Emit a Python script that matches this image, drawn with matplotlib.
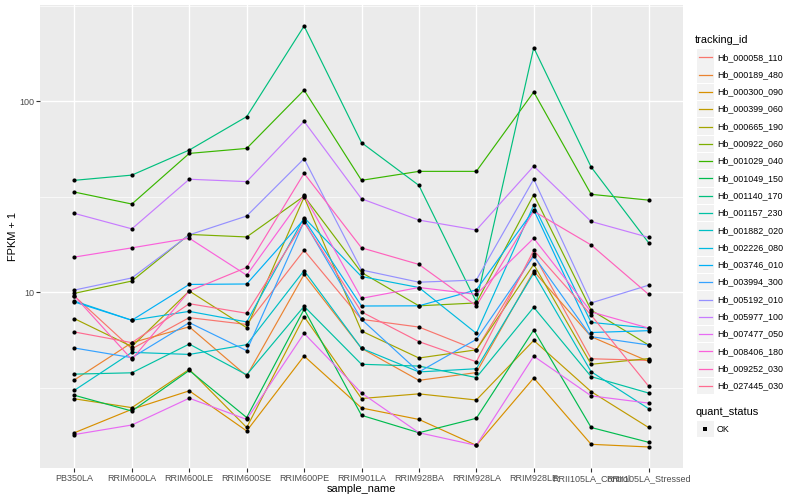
import numpy as np
import matplotlib
matplotlib.use("Agg")
import matplotlib.pyplot as plt
from matplotlib.patches import Rectangle
from matplotlib.lines import Line2D

plt.rcParams['font.family'] = ['Liberation Sans', 'DejaVu Sans']

samples = ['PB350LA', 'RRIM600LA', 'RRIM600LE', 'RRIM600SE', 'RRIM600PE', 'RRIM901LA',
           'RRIM928BA', 'RRIM928LA', 'RRIM928LE', 'RRII105LA_Control', 'RRII105LA_Stressed']

tracking_ids = ['Hb_000058_110', 'Hb_000189_480', 'Hb_000300_090', 'Hb_000399_060',
                'Hb_000665_190', 'Hb_000922_060', 'Hb_001029_040', 'Hb_001049_150',
                'Hb_001140_170', 'Hb_001157_230', 'Hb_001882_020', 'Hb_002226_080',
                'Hb_003746_010', 'Hb_003994_300', 'Hb_005192_010', 'Hb_005977_100',
                'Hb_007477_050', 'Hb_008406_180', 'Hb_009252_030', 'Hb_027445_030']

# FPKM + 1, one list per gene, in sample order
hb_000058_110 = [9.56, 5.06, 7.37, 6.79, 16.6, 7.22, 6.58, 5.0, 15.8, 4.49, 4.4]
hb_000189_480 = [3.48, 5.45, 6.6, 3.65, 12.4, 5.09, 3.46, 3.8, 12.9, 5.86, 4.35]
hb_000300_090 = [1.84, 2.44, 3.05, 1.88, 4.64, 2.48, 2.16, 1.58, 3.56, 1.6, 1.55]
hb_000399_060 = [2.77, 2.49, 3.95, 1.96, 7.46, 2.78, 2.94, 2.73, 5.6, 3.02, 1.96]
hb_000665_190 = [7.28, 5.2, 10.16, 6.53, 31.5, 6.27, 4.53, 5.0, 14.0, 4.2, 4.5]
hb_000922_060 = [9.88, 11.46, 20.1, 19.5, 31.9, 12.7, 8.5, 8.8, 32.5, 8.07, 5.3]
hb_001029_040 = [33.5, 29.0, 53.4, 56.7, 114.6, 38.6, 43.0, 43.0, 112.0, 32.6, 30.4]
hb_001049_150 = [2.89, 2.39, 3.9, 2.21, 8.15, 2.27, 1.84, 2.19, 6.35, 1.96, 1.64]
hb_001140_170 = [38.6, 41.1, 55.6, 83.2, 248.0, 60.8, 36.3, 8.9, 191.0, 45.3, 18.2]
hb_001157_230 = [3.73, 3.79, 5.36, 3.7, 8.45, 4.2, 4.11, 3.58, 8.35, 3.62, 2.97]
hb_001882_020 = [3.07, 4.85, 4.73, 5.32, 13.0, 5.09, 3.83, 3.98, 12.6, 3.84, 2.46]
hb_002226_080 = [9.0, 7.14, 7.95, 7.0, 24.6, 12.1, 10.6, 6.1, 28.6, 6.96, 6.5]
hb_003746_010 = [8.9, 7.14, 11.0, 11.06, 24.1, 8.48, 8.5, 10.3, 27.0, 6.16, 6.3]
hb_003994_300 = [5.11, 4.55, 6.94, 4.95, 23.5, 7.22, 3.83, 5.67, 15.5, 5.86, 5.3]
hb_005192_010 = [10.28, 11.9, 20.0, 25.1, 50.1, 13.1, 11.3, 11.6, 39.1, 8.8, 10.9]
hb_005977_100 = [25.9, 21.5, 39.1, 38.0, 78.6, 30.9, 23.9, 21.2, 45.8, 23.5, 19.4]
hb_007477_050 = [1.80, 2.02, 2.79, 2.16, 6.1, 2.97, 1.84, 1.58, 4.63, 2.87, 2.63]
hb_008406_180 = [15.3, 17.1, 19.2, 12.3, 32.2, 9.3, 10.6, 9.76, 19.2, 7.9, 6.5]
hb_009252_030 = [9.56, 4.45, 10.16, 13.5, 42.0, 17.1, 14.0, 8.5, 26.6, 17.7, 9.76]
hb_027445_030 = [6.2, 5.45, 8.72, 7.77, 23.3, 7.9, 5.52, 4.33, 16.6, 7.6, 3.23]

values = [hb_000058_110, hb_000189_480, hb_000300_090, hb_000399_060, hb_000665_190,
          hb_000922_060, hb_001029_040, hb_001049_150, hb_001140_170, hb_001157_230,
          hb_001882_020, hb_002226_080, hb_003746_010, hb_003994_300, hb_005192_010,
          hb_005977_100, hb_007477_050, hb_008406_180, hb_009252_030, hb_027445_030]

# ggplot default hue palette for 20 levels
colors = ["#F8766D", "#EA8331", "#D89000", "#C09B00", "#A3A500", "#7CAE00", "#39B600",
          "#00BB4E", "#00BF7D", "#00C1A3", "#00BFC4", "#00BAE0", "#00B0F6", "#35A2FF",
          "#9590FF", "#C77CFF", "#E76BF3", "#FA62DB", "#FF62BC", "#FF6C91"]

W, H = 800, 500
fig = plt.figure(figsize=(8, 5), dpi=100)
ax = fig.add_axes([40 / W, 1 - 468 / H, (683 - 40) / W, (468 - 5) / H])
ax.set_facecolor('#EBEBEB')
for s in ax.spines.values():
    s.set_visible(False)

x = np.arange(len(samples))
for vals, c in zip(values, colors):
    ax.plot(x, vals, color=c, lw=0.85, zorder=3)
for vals in values:
    ax.plot(x, vals, 'o', color='black', ms=3.0, mew=0, zorder=4)

ax.set_yscale('log')
allv = np.log10(np.concatenate([np.array(v) for v in values]))
lo, hi = allv.min(), allv.max()
pad = (hi - lo) * 0.05
ax.set_ylim(10 ** (lo - pad), 10 ** (hi + pad))
ax.set_xlim(-0.6, len(samples) - 0.4)

ax.set_yticks([10, 100])
ax.set_yticklabels(['10', '100'])
ax.set_yticks([10 ** 0.5, 10 ** 1.5, 10 ** 2.5], minor=True)
ax.yaxis.set_minor_formatter(matplotlib.ticker.NullFormatter())
ax.set_xticks(x)
ax.set_xticklabels(samples)
ax.tick_params(which='major', length=2.7, width=0.8, color='#333333',
               labelsize=6.5, labelcolor='#4D4D4D', pad=1.5)
ax.tick_params(which='minor', length=0)
ax.grid(which='major', color='white', lw=1.0, zorder=0)
ax.grid(which='minor', axis='y', color='white', lw=0.5, zorder=0)
ax.set_axisbelow(True)

ax.set_xlabel('sample_name', fontsize=7.9, labelpad=1)
ax.set_ylabel('FPKM + 1', fontsize=7.9, labelpad=1)

# legends drawn in pixel coordinates
lg = fig.add_axes([0, 0, 1, 1])
lg.set_xlim(0, W)
lg.set_ylim(H, 0)
lg.axis('off')

lg.text(695, 40, 'tracking_id', fontsize=7.9, va='center', ha='left')
y0, step = 57.3, 17.3
for i, (name, c) in enumerate(zip(tracking_ids, colors)):
    yc = y0 + i * step
    lg.add_patch(Rectangle((697, yc - 8.2), 16.5, 16.4, facecolor='#F2F2F2', edgecolor='none'))
    lg.add_line(Line2D([698.5, 711.5], [yc, yc], color=c, lw=0.9))
    lg.text(717, yc, name, fontsize=6.4, va='center', ha='left')

lg.text(695, 412, 'quant_status', fontsize=7.9, va='center', ha='left')
lg.add_patch(Rectangle((697, 421), 16.5, 16.4, facecolor='#F2F2F2', edgecolor='none'))
lg.plot([705.2], [429.2], 's', color='black', ms=2.4, mew=0)
lg.text(717, 429.2, 'OK', fontsize=6.4, va='center', ha='left')

fig.savefig('out.png', dpi=100)
